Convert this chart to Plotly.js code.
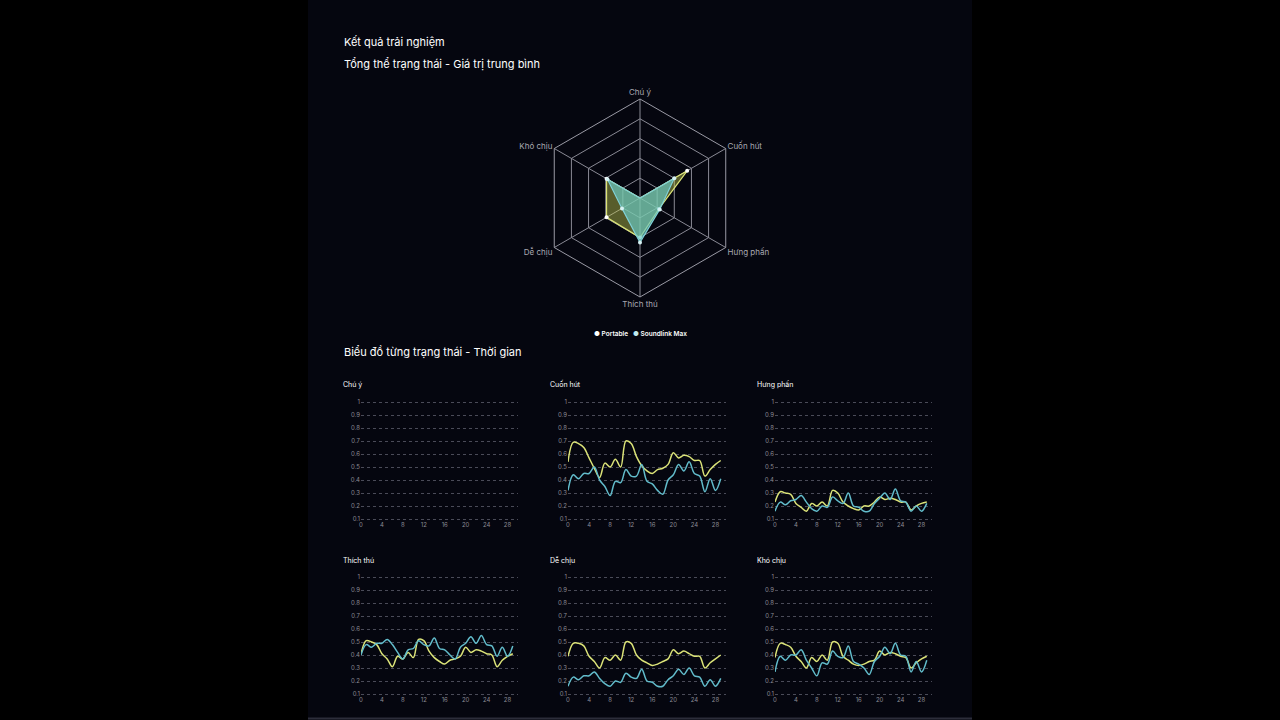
<!DOCTYPE html>
<html>
<head>
<meta charset="utf-8">
<script src="https://cdn.plot.ly/plotly-3.0.1.min.js"></script>
<style>
  html, body { margin: 0; padding: 0; background: #000; }
  #chart { width: 1280px; height: 720px; }
</style>
</head>
<body>
<div id="chart"></div>
<script>
// radar: average value per state
const states = ["Chú ý", "Cuốn hút", "Hưng phấn", "Thích thú", "Dễ chịu", "Khó chịu"];
const avgPortable = [0, 0.55, 0.22, 0.40, 0.39, 0.39];
const avgSoundlink = [0, 0.40, 0.23, 0.45, 0.21, 0.38];

// time axis (seconds)
const seconds = [0, 1, 2, 3, 4, 5, 6, 7, 8, 9, 10, 11, 12, 13, 14, 15, 16, 17, 18, 19, 20, 21, 22, 23, 24, 25, 26, 27, 28, 29];

// Chú ý has no recorded samples
const portableChuY = [];
const soundlinkChuY = [];

const portableCuonHut = [0.54, 0.69, 0.68, 0.65, 0.57, 0.49, 0.42, 0.53, 0.50, 0.56, 0.50, 0.70, 0.68, 0.58, 0.51, 0.47, 0.45, 0.48, 0.49, 0.52, 0.61, 0.57, 0.59, 0.58, 0.55, 0.55, 0.43, 0.48, 0.52, 0.55];
const soundlinkCuonHut = [0.32, 0.44, 0.41, 0.45, 0.45, 0.50, 0.40, 0.35, 0.28, 0.39, 0.38, 0.48, 0.43, 0.43, 0.52, 0.39, 0.37, 0.32, 0.29, 0.40, 0.44, 0.52, 0.47, 0.54, 0.45, 0.43, 0.31, 0.41, 0.32, 0.41];

const portableHungPhan = [0.23, 0.31, 0.30, 0.29, 0.22, 0.19, 0.16, 0.22, 0.20, 0.23, 0.20, 0.32, 0.30, 0.23, 0.20, 0.18, 0.17, 0.20, 0.20, 0.23, 0.27, 0.25, 0.26, 0.25, 0.23, 0.23, 0.17, 0.20, 0.22, 0.23];
const soundlinkHungPhan = [0.16, 0.23, 0.21, 0.24, 0.25, 0.28, 0.23, 0.18, 0.16, 0.20, 0.19, 0.27, 0.24, 0.22, 0.30, 0.20, 0.19, 0.16, 0.16, 0.22, 0.26, 0.30, 0.25, 0.33, 0.24, 0.23, 0.16, 0.20, 0.16, 0.22];

const portableThichThu = [0.41, 0.51, 0.50, 0.48, 0.41, 0.37, 0.31, 0.39, 0.37, 0.42, 0.38, 0.52, 0.51, 0.43, 0.38, 0.35, 0.33, 0.36, 0.37, 0.39, 0.46, 0.42, 0.44, 0.43, 0.41, 0.40, 0.31, 0.36, 0.39, 0.41];
const soundlinkThichThu = [0.40, 0.48, 0.46, 0.49, 0.49, 0.52, 0.48, 0.42, 0.37, 0.44, 0.45, 0.51, 0.48, 0.47, 0.53, 0.45, 0.44, 0.40, 0.37, 0.46, 0.49, 0.54, 0.49, 0.55, 0.48, 0.47, 0.39, 0.46, 0.39, 0.47];

const portableDeChiu = [0.39, 0.49, 0.49, 0.47, 0.39, 0.35, 0.30, 0.38, 0.36, 0.40, 0.36, 0.50, 0.49, 0.40, 0.36, 0.34, 0.32, 0.33, 0.35, 0.37, 0.44, 0.41, 0.43, 0.41, 0.39, 0.39, 0.30, 0.34, 0.37, 0.40];
const soundlinkDeChiu = [0.16, 0.23, 0.21, 0.24, 0.24, 0.27, 0.22, 0.18, 0.16, 0.20, 0.19, 0.26, 0.23, 0.22, 0.29, 0.20, 0.19, 0.16, 0.16, 0.21, 0.24, 0.29, 0.25, 0.30, 0.24, 0.23, 0.16, 0.21, 0.16, 0.22];

const portableKhoChiu = [0.38, 0.49, 0.48, 0.46, 0.39, 0.35, 0.30, 0.38, 0.35, 0.40, 0.36, 0.50, 0.49, 0.39, 0.36, 0.33, 0.32, 0.33, 0.35, 0.36, 0.43, 0.40, 0.42, 0.41, 0.39, 0.38, 0.30, 0.34, 0.37, 0.39];
const soundlinkKhoChiu = [0.27, 0.39, 0.36, 0.40, 0.40, 0.44, 0.36, 0.30, 0.24, 0.34, 0.33, 0.43, 0.39, 0.38, 0.47, 0.35, 0.33, 0.30, 0.25, 0.35, 0.39, 0.46, 0.41, 0.49, 0.40, 0.39, 0.27, 0.35, 0.27, 0.36];

const yTicks = [0.1, 0.2, 0.3, 0.4, 0.5, 0.6, 0.7, 0.8, 0.9, 1];
const xTicks = [0, 4, 8, 12, 16, 20, 24, 28];

const W = 1280;
const H = 720;
const px = (x) => x / W;
const py = (y) => 1 - y / H;

const YELLOW = "#dbe378";
const CYAN = "#62bccb";
const FONT = "Inter, 'Noto Sans', sans-serif";

const panels = [
  { title: "Chú ý", portable: portableChuY, soundlink: soundlinkChuY },
  { title: "Cuốn hút", portable: portableCuonHut, soundlink: soundlinkCuonHut },
  { title: "Hưng phấn", portable: portableHungPhan, soundlink: soundlinkHungPhan },
  { title: "Thích thú", portable: portableThichThu, soundlink: soundlinkThichThu },
  { title: "Dễ chịu", portable: portableDeChiu, soundlink: soundlinkDeChiu },
  { title: "Khó chịu", portable: portableKhoChiu, soundlink: soundlinkKhoChiu },
];

// pixel boxes of the small charts (range 0.09..1.01)
const colX = [[361, 518], [568, 726], [775, 932]];
const rowY = [[400.7, 520.3], [575.7, 695.3]];
const titleX = [341, 548, 755];
const titleY = [384, 560];

const closeLoop = (arr) => arr.concat(arr.slice(0, 1));

const traces = [
  {
    type: "scatterpolar",
    name: "Portable",
    r: closeLoop(avgPortable),
    theta: closeLoop(states),
    mode: "lines+markers",
    fill: "toself",
    fillcolor: "rgba(205,215,85,0.42)",
    line: { color: YELLOW, width: 1.2 },
    marker: { color: "#ffffff", size: 4 },
    showlegend: false,
  },
  {
    type: "scatterpolar",
    name: "Soundlink Max",
    r: closeLoop(avgSoundlink),
    theta: closeLoop(states),
    mode: "lines+markers",
    fill: "toself",
    fillcolor: "rgba(105,200,195,0.68)",
    line: { color: "#7fd0d6", width: 1.2 },
    marker: { color: "#d6f2f4", size: 4 },
    showlegend: false,
  },
];

const layout = {
  width: W,
  height: H,
  margin: { l: 0, r: 0, t: 0, b: 0 },
  paper_bgcolor: "#000000",
  plot_bgcolor: "rgba(0,0,0,0)",
  font: { family: FONT, color: "#ffffff" },
  showlegend: false,
  shapes: [
    {
      type: "rect", xref: "paper", yref: "paper",
      x0: px(308), x1: px(972), y0: 0, y1: 1,
      fillcolor: "#05060f", line: { width: 0 }, layer: "below",
    },
    {
      type: "line", xref: "paper", yref: "paper",
      x0: px(308), x1: px(972), y0: py(718.5), y1: py(718.5),
      line: { color: "#2c2d3a", width: 2 },
    },
  ],
  polar: {
    domain: { x: [px(541), px(739)], y: [py(297), py(99)] },
    bgcolor: "rgba(0,0,0,0)",
    gridshape: "linear",
    radialaxis: {
      range: [0, 1],
      dtick: 0.2,
      showticklabels: false,
      ticks: "",
      showline: false,
      gridcolor: "#8a8a95",
      gridwidth: 1,
    },
    angularaxis: {
      rotation: 90,
      direction: "clockwise",
      ticks: "",
      gridcolor: "#8a8a95",
      linecolor: "#9a9aa5",
      tickfont: { size: 8, color: "#a9a9b2", family: FONT },
    },
  },
  annotations: [
    {
      text: "Kết quả trải nghiệm", xref: "paper", yref: "paper",
      x: px(342), y: py(42), xanchor: "left", yanchor: "middle", showarrow: false,
      font: { size: 11, color: "#ffffff", family: FONT },
    },
    {
      text: "Tổng thể trạng thái - Giá trị trung bình", xref: "paper", yref: "paper",
      x: px(342), y: py(64), xanchor: "left", yanchor: "middle", showarrow: false,
      font: { size: 11, color: "#ffffff", family: FONT },
    },
    {
      text: "Biểu đồ từng trạng thái - Thời gian", xref: "paper", yref: "paper",
      x: px(342), y: py(352), xanchor: "left", yanchor: "middle", showarrow: false,
      font: { size: 11, color: "#ffffff", family: FONT },
    },
    {
      // legend of the radar
      text: '<span style="color:#ffffff">●</span> Portable   <span style="color:#bfe9ee">●</span> Soundlink Max',
      xref: "paper", yref: "paper",
      x: 0.5, y: py(334), xanchor: "center", yanchor: "middle", showarrow: false,
      font: { size: 6.5, color: "#ffffff", family: FONT, weight: 600 },
    },
  ],
};

panels.forEach((panel, i) => {
  const n = i + 1;
  const col = i % 3;
  const row = Math.floor(i / 3);
  const xKey = n === 1 ? "xaxis" : `xaxis${n}`;
  const yKey = n === 1 ? "yaxis" : `yaxis${n}`;
  const xRef = n === 1 ? "x" : `x${n}`;
  const yRef = n === 1 ? "y" : `y${n}`;

  layout[xKey] = {
    domain: [px(colX[col][0]), px(colX[col][1])],
    anchor: yRef,
    range: [0, 30],
    tickmode: "array",
    tickvals: xTicks,
    showgrid: false,
    zeroline: false,
    showline: false,
    ticks: "",
    tickfont: { size: 6, color: "#8b8b95", family: FONT },
    fixedrange: true,
  };
  layout[yKey] = {
    domain: [py(rowY[row][1]), py(rowY[row][0])],
    anchor: xRef,
    range: [0.09, 1.01],
    tickmode: "array",
    tickvals: yTicks,
    showgrid: true,
    gridcolor: "#4a4b58",
    griddash: "dot",
    gridwidth: 1,
    zeroline: false,
    showline: false,
    ticks: "",
    tickfont: { size: 6, color: "#8b8b95", family: FONT },
    fixedrange: true,
  };

  layout.annotations.push({
    text: panel.title, xref: "paper", yref: "paper",
    x: px(titleX[col]), y: py(titleY[row]), xanchor: "left", yanchor: "middle",
    showarrow: false, font: { size: 7, color: "#ffffff", family: FONT },
  });

  traces.push({
    type: "scatter",
    mode: "lines",
    name: "Portable",
    x: seconds.slice(0, panel.portable.length),
    y: panel.portable,
    xaxis: xRef,
    yaxis: yRef,
    line: { color: YELLOW, width: 1.5, shape: "spline", smoothing: 1 },
    showlegend: false,
  });
  traces.push({
    type: "scatter",
    mode: "lines",
    name: "Soundlink Max",
    x: seconds.slice(0, panel.soundlink.length),
    y: panel.soundlink,
    xaxis: xRef,
    yaxis: yRef,
    line: { color: CYAN, width: 1.5, shape: "spline", smoothing: 1 },
    showlegend: false,
  });
});

Plotly.newPlot("chart", traces, layout, { displayModeBar: false, staticPlot: true });
</script>
</body>
</html>
